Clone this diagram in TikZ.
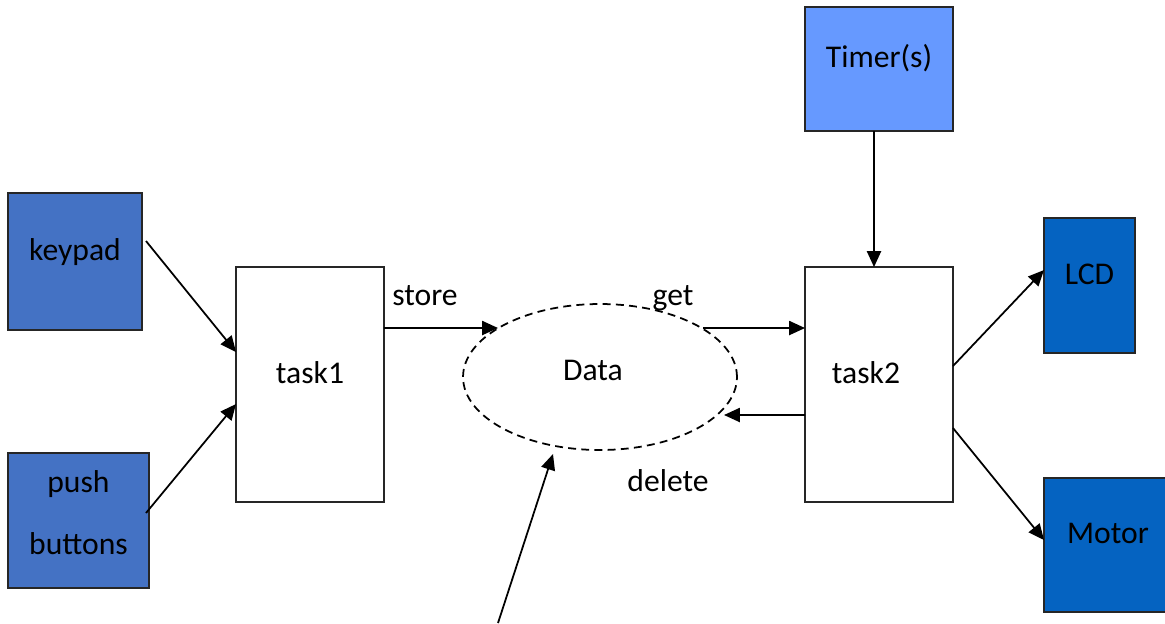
\documentclass[tikz,border=0pt]{standalone}
\usepackage{fontspec}
\setmainfont{Carlito}
\usetikzlibrary{arrows.meta,calc,shapes.geometric}
\definecolor{keyblue}{HTML}{4472C4}
\definecolor{timerblue}{HTML}{6699FF}
\definecolor{outblue}{HTML}{0563C1}
\tikzset{
  every node/.style={font=\fontsize{18}{22}\selectfont, inner sep=0pt, outer sep=0pt},
  box/.style={draw=black!85, line width=1pt, rectangle, text height=13.5pt, text depth=15pt},
  conn/.style={line width=1pt, -{Triangle[length=9pt,width=8pt]}},
  lbl/.style={text height=13.5pt, text depth=4.5pt}
}
\begin{document}
\begin{tikzpicture}[x=0.02cm, y=-0.02cm]
\useasboundingbox (0,0) rectangle (1165,623);
% boxes
\node[box, fill=keyblue, minimum width=2.68cm, minimum height=2.74cm] (keypad) at (75,261.5) {keypad};
\node[draw=black!85, line width=1pt, fill=keyblue, minimum width=2.82cm, minimum height=2.70cm, align=center,
      text depth=9pt, font=\fontsize{18}{35.7}\selectfont] (push) at (78.5,520.5) {push\\buttons};
\node[box, fill=white, minimum width=2.96cm, minimum height=4.70cm] (task1) at (310,384.5) {task1};
\node[box, fill=timerblue, minimum width=2.96cm, minimum height=2.48cm] (timer) at (879,69) {Timer(s)};
\node[box, fill=white, minimum width=2.96cm, minimum height=4.70cm] (task2) at (879,384.5) {task2\kern0.52cm};
\node[box, fill=outblue, minimum width=1.82cm, minimum height=2.70cm] (lcd) at (1089.5,285.5) {LCD};
\node[box, fill=outblue, minimum width=2.56cm, minimum height=2.68cm] (motor) at (1108,545) {Motor};
\node[draw, dashed, dash pattern=on 4.5pt off 3pt, line width=1pt, ellipse, minimum width=5.48cm, minimum height=2.92cm,
      text height=13.5pt, text depth=10pt] (data) at (600,377) {Data\kern0.28cm};
% labels
\node[lbl] (storelbl) at (425,298) {store};
\node[lbl] (getlbl) at (673,298) {get};
\node[lbl] (deletelbl) at (668,484) {delete};
\coordinate (src) at (498,623);
% connectors
\draw[conn] ($(keypad.north east)+(4,48)$) -- ($(task1.north west)+(0,85)$);
\draw[conn] ($(push.north east)+(-3,60)$) -- ($(task1.north west)+(0,137)$);
\draw[conn] ($(task1.north east)+(0,61)$) -- ($(data.center)+(-102,-49)$);
\draw[conn] ($(data.center)+(103,-49)$) -- ($(task2.north west)+(0,61)$);
\draw[conn] ($(task2.north west)+(0,148)$) -- ($(data.center)+(124,38)$);
\draw[conn] ($(timer.south)+(-5,0)$) -- ($(task2.north)+(-5,0)$);
\draw[conn] ($(task2.north east)+(0,99)$) -- ($(lcd.north west)+(0,52)$);
\draw[conn] ($(task2.north east)+(0,161)$) -- ($(motor.north west)+(0,62)$);
\draw[conn] (src) -- ($(data.center)+(-47,77)$);
\end{tikzpicture}
\end{document}
